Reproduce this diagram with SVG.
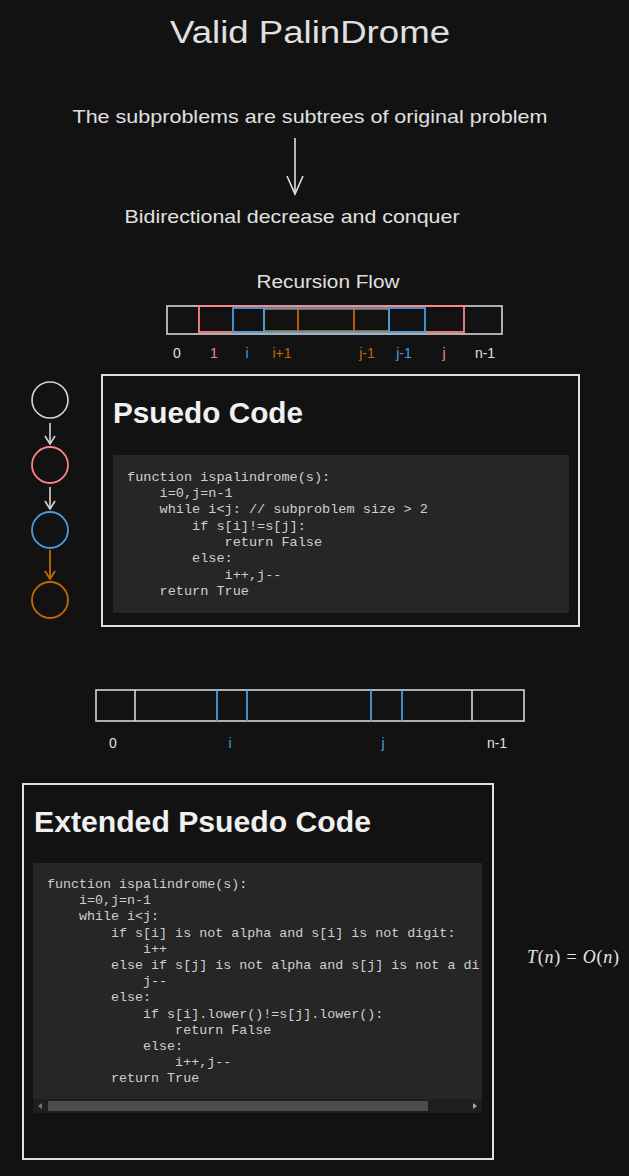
<svg xmlns="http://www.w3.org/2000/svg" width="629" height="1176" viewBox="0 0 629 1176">
<style>
.hand{font-family:"Liberation Sans","Noto Sans",sans-serif;fill:#e0e0e0}
.ttl{font-family:"Liberation Sans","Noto Sans",sans-serif;fill:#f0f0f0;font-weight:bold}
.code{font-family:"Liberation Mono","DejaVu Sans Mono",monospace;font-size:13.55px;fill:#cfcfcf;white-space:pre}
.codex{font-family:"Liberation Mono","DejaVu Sans Mono",monospace;font-size:13.35px;fill:#cfcfcf;white-space:pre}
.lbl{font-family:"Liberation Sans","Noto Sans",sans-serif;font-size:14px;text-anchor:middle}
.w{stroke:#d6d6d6;fill:none;stroke-width:1.6}
.r{stroke:#ff8383;fill:none;stroke-width:1.8}
.b{stroke:#4a9ee0;fill:none;stroke-width:1.8}
.o{stroke:#c46a00;fill:none;stroke-width:1.8}
.math{font-family:"Liberation Serif","DejaVu Serif",serif;font-size:18px;fill:#e6e6e6}
</style>
<defs>
<marker id="aw" markerWidth="12" markerHeight="12" refX="10" refY="6" orient="auto" markerUnits="userSpaceOnUse" viewBox="0 0 12 12"><path d="M2,1 L10,6 L2,11" fill="none" stroke="#d6d6d6" stroke-width="1.6"/></marker>
<marker id="ao" markerWidth="12" markerHeight="12" refX="10" refY="6" orient="auto" markerUnits="userSpaceOnUse" viewBox="0 0 12 12"><path d="M2,1 L10,6 L2,11" fill="none" stroke="#c46a00" stroke-width="1.8"/></marker>
<marker id="abig" markerWidth="22" markerHeight="20" refX="20" refY="10" orient="auto" markerUnits="userSpaceOnUse" viewBox="0 0 22 20"><path d="M2,2 L20,10 L2,18" fill="none" stroke="#e0e0e0" stroke-width="1.6"/></marker>
<clipPath id="clipExt"><rect x="33" y="863" width="447" height="236"/></clipPath>
</defs>
<rect x="0" y="0" width="629" height="1176" fill="#121212"/>

<g id="title"><text class="hand" x="310" y="43" font-size="31" text-anchor="middle" textLength="280" lengthAdjust="spacingAndGlyphs">Valid PalinDrome</text></g>
<g id="subtext"><text class="hand" x="310" y="123" font-size="19" text-anchor="middle" textLength="475" lengthAdjust="spacingAndGlyphs">The subproblems are subtrees of original problem</text></g>
<g id="bidirectional"><text class="hand" x="292" y="223" font-size="19" text-anchor="middle" textLength="335" lengthAdjust="spacingAndGlyphs">Bidirectional decrease and conquer</text></g>
<g id="recursion-flow-label"><text class="hand" x="328" y="288" font-size="18" text-anchor="middle" textLength="143" lengthAdjust="spacingAndGlyphs">Recursion Flow</text></g>

<g id="array1">
<rect class="w" x="167" y="306" width="335" height="28"/>
<rect class="r" x="199" y="306" width="265" height="26"/>
<rect class="o" x="264" y="309" width="125" height="22"/>
<line class="o" x1="298" y1="309" x2="298" y2="331"/>
<line class="o" x1="354" y1="309" x2="354" y2="331"/>
<rect class="b" x="233" y="308" width="192" height="24"/>
<line class="b" x1="264" y1="308" x2="264" y2="332"/>
<line class="b" x1="389" y1="308" x2="389" y2="332"/>
<text class="lbl" x="177" y="358" fill="#e0e0e0">0</text>
<text class="lbl" x="214" y="358" fill="#ff8383">1</text>
<text class="lbl" x="247" y="358" fill="#4a9ee0">i</text>
<text class="lbl" x="282" y="358" fill="#c46a00">i+1</text>
<text class="lbl" x="367" y="358" fill="#c46a00">j-1</text>
<text class="lbl" x="404" y="358" fill="#4a9ee0">j-1</text>
<text class="lbl" x="444" y="358" fill="#ff8383">j</text>
<text class="lbl" x="485" y="358" fill="#e0e0e0">n-1</text>
</g>

<g id="node-white"><circle class="w" cx="50" cy="400" r="18"/></g>
<g id="node-red"><circle class="r" cx="50" cy="465" r="18"/></g>
<g id="node-blue"><circle class="b" cx="50" cy="530" r="18"/></g>
<g id="node-orange"><circle class="o" cx="50" cy="600" r="18"/></g>

<g id="pseudo-code">
<rect x="102" y="375" width="477" height="251" fill="none" stroke="#e0e0e0" stroke-width="2"/>
<text class="ttl" x="113" y="423" font-size="29" textLength="190" lengthAdjust="spacingAndGlyphs">Psuedo Code</text>
<rect x="113" y="455" width="456" height="158" fill="#262626"/>
<text class="code" x="127" y="481">function ispalindrome(s):</text>
<text class="code" x="127" y="497">    i=0,j=n-1</text>
<text class="code" x="127" y="513">    while i&lt;j: // subproblem size &gt; 2</text>
<text class="code" x="127" y="530">        if s[i]!=s[j]:</text>
<text class="code" x="127" y="546">            return False</text>
<text class="code" x="127" y="562">        else:</text>
<text class="code" x="127" y="579">            i++,j--</text>
<text class="code" x="127" y="595">    return True</text>
</g>

<g id="array2">
<rect class="w" x="96" y="690" width="428" height="31" stroke-width="1.4"/>
<line class="w" x1="135" y1="690" x2="135" y2="721" stroke-width="1.4"/>
<line class="w" x1="472" y1="690" x2="472" y2="721" stroke-width="1.4"/>
<line class="b" x1="217" y1="690" x2="217" y2="721" stroke-width="1.3"/>
<line class="b" x1="247" y1="690" x2="247" y2="721" stroke-width="1.3"/>
<line class="b" x1="371" y1="690" x2="371" y2="721" stroke-width="1.3"/>
<line class="b" x1="402" y1="690" x2="402" y2="721" stroke-width="1.3"/>
<text class="lbl" x="113" y="748" fill="#e0e0e0">0</text>
<text class="lbl" x="230" y="748" fill="#4a9ee0">i</text>
<text class="lbl" x="383" y="748" fill="#4a9ee0">j</text>
<text class="lbl" x="497" y="748" fill="#e0e0e0">n-1</text>
</g>

<g id="extended-pseudo-code">
<rect x="23" y="784" width="470" height="375" fill="none" stroke="#e0e0e0" stroke-width="2"/>
<text class="ttl" x="34" y="832" font-size="29" textLength="337" lengthAdjust="spacingAndGlyphs">Extended Psuedo Code</text>
<rect x="33" y="863" width="449" height="250" fill="#262626"/>
<g clip-path="url(#clipExt)">
<text class="codex" x="47" y="888">function ispalindrome(s):</text>
<text class="codex" x="47" y="904">    i=0,j=n-1</text>
<text class="codex" x="47" y="920">    while i&lt;j:</text>
<text class="codex" x="47" y="937">        if s[i] is not alpha and s[i] is not digit:</text>
<text class="codex" x="47" y="953">            i++</text>
<text class="codex" x="47" y="969">        else if s[j] is not alpha and s[j] is not a digit:</text>
<text class="codex" x="47" y="985">            j--</text>
<text class="codex" x="47" y="1001">        else:</text>
<text class="codex" x="47" y="1018">            if s[i].lower()!=s[j].lower():</text>
<text class="codex" x="47" y="1034">                return False</text>
<text class="codex" x="47" y="1050">            else:</text>
<text class="codex" x="47" y="1066">                i++,j--</text>
<text class="codex" x="47" y="1082">        return True</text>
</g>
<rect x="33" y="1099" width="449" height="14" fill="#1e1e1e"/>
<rect x="48" y="1101" width="380" height="10" fill="#4d4d4d"/>
<path d="M42,1103 L38,1106 L42,1109 Z" fill="#777"/>
<path d="M473,1103 L477,1106 L473,1109 Z" fill="#aaa"/>
</g>

<g id="complexity">
<text class="math" x="527" y="963" textLength="92" lengthAdjust="spacing"><tspan font-style="italic">T</tspan>(<tspan font-style="italic">n</tspan>) = <tspan font-style="italic">O</tspan>(<tspan font-style="italic">n</tspan>)</text>
</g>

<g id="connectors">
<line x1="295" y1="138" x2="295" y2="194" stroke="#e0e0e0" stroke-width="1.6" marker-end="url(#abig)"/>
<line x1="50" y1="423" x2="50" y2="444" stroke="#d6d6d6" stroke-width="1.6" marker-end="url(#aw)"/>
<line x1="50" y1="487" x2="50" y2="509" stroke="#d6d6d6" stroke-width="1.6" marker-end="url(#aw)"/>
<line x1="50" y1="550" x2="50" y2="579" stroke="#c46a00" stroke-width="1.8" marker-end="url(#ao)"/>
</g>
</svg>
